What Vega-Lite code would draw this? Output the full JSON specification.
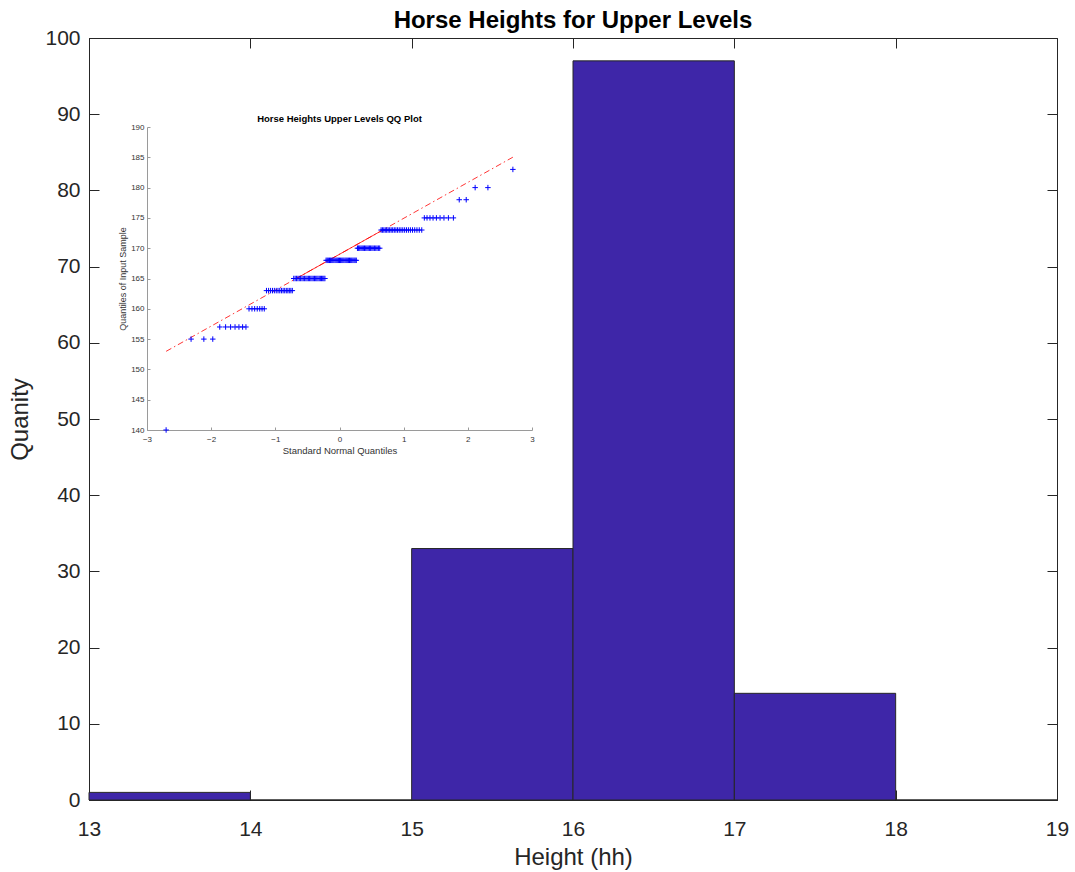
{
"$schema": "https://vega.github.io/schema/vega-lite/v6.json",
"width": 968, "height": 762,
"autosize": {"type": "none"},
"padding": {"left": 89, "top": 38, "right": 18, "bottom": 72},
"background": "white",
"config": {"font": "Liberation Sans", "view": {"stroke": "#262626", "strokeWidth": 1}, "axis": {"grid": false}},
"title": {"text": "Horse Heights for Upper Levels", "fontSize": 24, "font": "Liberation Sans", "fontWeight": "bold", "color": "#000000", "frame": "group", "offset": -6, "anchor": "middle"},
"datasets": {
"bins": [{"lo":13,"hi":14,"count":1},{"lo":14,"hi":15,"count":0},{"lo":15,"hi":16,"count":33},{"lo":16,"hi":17,"count":97},{"lo":17,"hi":18,"count":14},{"lo":18,"hi":19,"count":0}],
"qqdash": [{"z":-2.702,"h":152.98},{"z":2.702,"h":185.02}],
"qqsolid": [{"z":-0.674,"h":165},{"z":0.674,"h":173}],
"qq": [
{"z":-2.702,"h":140},{"z":-2.313,"h":155},{"z":-2.114,"h":155},{"z":-1.975,"h":155},
{"z":-1.866,"h":157},{"z":-1.775,"h":157},{"z":-1.697,"h":157},{"z":-1.628,"h":157},{"z":-1.567,"h":157},{"z":-1.510,"h":157},{"z":-1.458,"h":157},
{"z":-1.410,"h":160},{"z":-1.364,"h":160},{"z":-1.322,"h":160},{"z":-1.282,"h":160},{"z":-1.243,"h":160},{"z":-1.207,"h":160},{"z":-1.172,"h":160},
{"z":-1.138,"h":163},{"z":-1.105,"h":163},{"z":-1.074,"h":163},{"z":-1.044,"h":163},{"z":-1.015,"h":163},{"z":-0.986,"h":163},{"z":-0.958,"h":163},{"z":-0.931,"h":163},{"z":-0.905,"h":163},{"z":-0.879,"h":163},{"z":-0.854,"h":163},{"z":-0.829,"h":163},{"z":-0.805,"h":163},{"z":-0.782,"h":163},{"z":-0.758,"h":163},{"z":-0.735,"h":163},
{"z":-0.713,"h":165},{"z":-0.691,"h":165},{"z":-0.669,"h":165},{"z":-0.648,"h":165},{"z":-0.627,"h":165},{"z":-0.606,"h":165},{"z":-0.585,"h":165},{"z":-0.565,"h":165},{"z":-0.544,"h":165},{"z":-0.524,"h":165},{"z":-0.505,"h":165},{"z":-0.485,"h":165},{"z":-0.466,"h":165},{"z":-0.447,"h":165},{"z":-0.428,"h":165},{"z":-0.409,"h":165},{"z":-0.390,"h":165},{"z":-0.371,"h":165},{"z":-0.353,"h":165},{"z":-0.335,"h":165},{"z":-0.316,"h":165},{"z":-0.298,"h":165},{"z":-0.280,"h":165},{"z":-0.262,"h":165},{"z":-0.244,"h":165},{"z":-0.227,"h":165},
{"z":-0.209,"h":168},{"z":-0.191,"h":168},{"z":-0.174,"h":168},{"z":-0.156,"h":168},{"z":-0.139,"h":168},{"z":-0.121,"h":168},{"z":-0.104,"h":168},{"z":-0.087,"h":168},{"z":-0.069,"h":168},{"z":-0.052,"h":168},{"z":-0.035,"h":168},{"z":-0.017,"h":168},{"z":0,"h":168},{"z":0.017,"h":168},{"z":0.035,"h":168},{"z":0.052,"h":168},{"z":0.069,"h":168},{"z":0.087,"h":168},{"z":0.104,"h":168},{"z":0.121,"h":168},{"z":0.139,"h":168},{"z":0.156,"h":168},{"z":0.174,"h":168},{"z":0.191,"h":168},{"z":0.209,"h":168},{"z":0.227,"h":168},{"z":0.244,"h":168},{"z":0.262,"h":168},
{"z":0.280,"h":170},{"z":0.298,"h":170},{"z":0.316,"h":170},{"z":0.335,"h":170},{"z":0.353,"h":170},{"z":0.371,"h":170},{"z":0.390,"h":170},{"z":0.409,"h":170},{"z":0.428,"h":170},{"z":0.447,"h":170},{"z":0.466,"h":170},{"z":0.485,"h":170},{"z":0.505,"h":170},{"z":0.524,"h":170},{"z":0.544,"h":170},{"z":0.565,"h":170},{"z":0.585,"h":170},{"z":0.606,"h":170},{"z":0.627,"h":170},
{"z":0.648,"h":173},{"z":0.669,"h":173},{"z":0.691,"h":173},{"z":0.713,"h":173},{"z":0.735,"h":173},{"z":0.758,"h":173},{"z":0.782,"h":173},{"z":0.805,"h":173},{"z":0.829,"h":173},{"z":0.854,"h":173},{"z":0.879,"h":173},{"z":0.905,"h":173},{"z":0.931,"h":173},{"z":0.958,"h":173},{"z":0.986,"h":173},{"z":1.015,"h":173},{"z":1.044,"h":173},{"z":1.074,"h":173},{"z":1.105,"h":173},{"z":1.138,"h":173},{"z":1.172,"h":173},{"z":1.207,"h":173},{"z":1.243,"h":173},{"z":1.282,"h":173},
{"z":1.322,"h":175},{"z":1.364,"h":175},{"z":1.410,"h":175},{"z":1.458,"h":175},{"z":1.510,"h":175},{"z":1.567,"h":175},{"z":1.628,"h":175},{"z":1.697,"h":175},{"z":1.775,"h":175},
{"z":1.866,"h":178},{"z":1.975,"h":178},{"z":2.114,"h":180},{"z":2.313,"h":180},{"z":2.702,"h":183}
]
},
"layer": [
{
"data": {"name": "bins"},
"mark": {"type": "rect", "color": "#3E26A8", "stroke": "#262626", "strokeWidth": 1},
"encoding": {
"x": {"field": "lo", "type": "quantitative", "scale": {"domain": [13, 19], "nice": false, "zero": false},
"axis": {"orient": "bottom", "values": [13,14,15,16,17,18,19], "tickSize": -10, "tickColor": "#262626", "domainColor": "#262626", "labelFontSize": 21, "labelColor": "#262626", "labelPadding": 28, "labelFlush": false, "title": "Height (hh)", "titleFontSize": 24, "titleFontWeight": "normal", "titleColor": "#262626", "titlePadding": 6}},
"x2": {"field": "hi"},
"y": {"field": "count", "type": "quantitative", "scale": {"domain": [0, 100], "nice": false},
"axis": {"orient": "left", "values": [0,10,20,30,40,50,60,70,80,90,100], "tickSize": -10, "tickColor": "#262626", "domainColor": "#262626", "labelFontSize": 21, "labelColor": "#262626", "labelPadding": 19, "labelFlush": false, "title": "Quanity", "titleFontSize": 24, "titleFontWeight": "normal", "titleColor": "#262626", "titlePadding": 12}},
"y2": {"datum": 0}
}
},
{
"data": {"name": "bins"},
"mark": {"type": "point", "opacity": 0},
"encoding": {
"x": {"field": "lo", "type": "quantitative", "scale": {"domain": [13, 19], "nice": false, "zero": false},
"axis": {"orient": "top", "values": [13,14,15,16,17,18,19], "tickSize": -10, "tickColor": "#262626", "domain": false, "labels": false, "title": null}},
"y": {"field": "count", "type": "quantitative", "scale": {"domain": [0, 100], "nice": false},
"axis": {"orient": "right", "values": [0,10,20,30,40,50,60,70,80,90,100], "tickSize": -10, "tickColor": "#262626", "domain": false, "labels": false, "title": null}}
}
},
{
"layer": [
{
"data": {"name": "qqdash"},
"mark": {"type": "line", "color": "#FF0000", "strokeWidth": 0.8, "strokeDash": [6, 3, 1.5, 3]},
"encoding": {
"x": {"field": "z", "type": "quantitative", "scale": {"domain": [-3, 3], "range": [58, 443], "nice": false, "zero": false},
"axis": {"orient": "bottom", "offset": -370, "values": [-3,-2,-1,0,1,2,3], "format": "d", "tickSize": -3, "tickColor": "#9a9a9a", "domainColor": "#9a9a9a", "labelFontSize": 8, "labelColor": "#333333", "labelPadding": 8, "labelFlush": false, "title": "Standard Normal Quantiles", "titleFontSize": 9.5, "titleFontWeight": "normal", "titleColor": "#333333", "titlePadding": 2}},
"y": {"field": "h", "type": "quantitative", "scale": {"domain": [140, 190], "range": [392, 89], "nice": false, "zero": false},
"axis": {"orient": "left", "offset": -58, "values": [140,145,150,155,160,165,170,175,180,185,190], "format": "d", "tickSize": -3, "tickColor": "#9a9a9a", "domainColor": "#9a9a9a", "labelFontSize": 8, "labelColor": "#333333", "labelPadding": 6, "labelFlush": false, "title": "Quantiles of Input Sample", "titleFontSize": 9, "titleFontWeight": "normal", "titleColor": "#333333", "titlePadding": 3}}
}
},
{
"data": {"name": "qqsolid"},
"mark": {"type": "line", "color": "#FF0000", "strokeWidth": 0.8},
"encoding": {
"x": {"field": "z", "type": "quantitative"},
"y": {"field": "h", "type": "quantitative"}
}
},
{
"data": {"name": "qq"},
"mark": {"type": "point", "shape": "M-1,0L1,0M0,-1L0,1", "size": 30, "stroke": "#0000FF", "strokeWidth": 1, "filled": false, "opacity": 1},
"encoding": {
"x": {"field": "z", "type": "quantitative"},
"y": {"field": "h", "type": "quantitative"}
}
},
{
"data": {"values": [{}]},
"mark": {"type": "text", "text": "Horse Heights Upper Levels QQ Plot", "fontWeight": "bold", "fontSize": 9.5, "baseline": "middle", "align": "center", "color": "#000000"},
"encoding": {
"x": {"datum": 0, "type": "quantitative"},
"y": {"datum": 191.4, "type": "quantitative"}
}
}
]
}
],
"resolve": {"scale": {"x": "independent", "y": "independent"}, "axis": {"x": "independent", "y": "independent"}}
}
